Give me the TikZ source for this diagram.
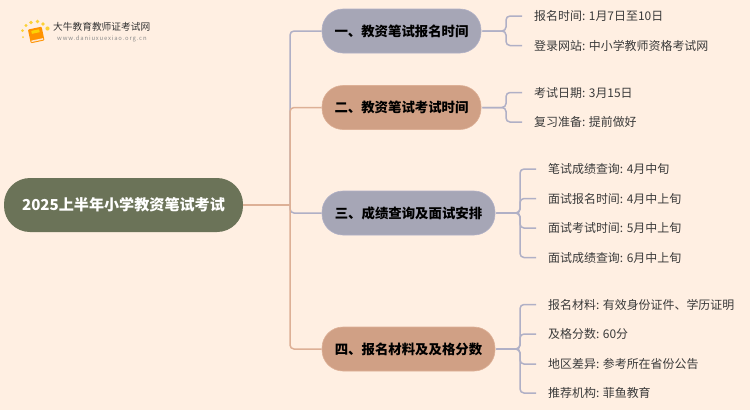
\documentclass[tikz,border=0pt]{standalone}
\usepackage{fontspec}
\setmainfont{Noto Sans CJK SC}
\definecolor{bgc}{HTML}{FFEFE2}
\definecolor{rootc}{HTML}{6B7358}
\definecolor{purp}{HTML}{A6A6B6}
\definecolor{tanc}{HTML}{D0A085}
\definecolor{lpurp}{HTML}{B0B0C6}
\definecolor{ltan}{HTML}{DDB096}
\definecolor{txt}{HTML}{3A3A3A}
\tikzset{
  x=1pt,y=-1pt,
  rootbox/.style={rounded corners=26pt,fill=rootc,text=white,minimum width=239pt,minimum height=54pt,inner sep=0pt,font=\fontsize{15.1}{16}\selectfont\bfseries},
  branchbox/.style={rounded corners=21pt,minimum height=44pt,inner sep=0pt,text=black,font=\fontsize{13.4}{15}\selectfont\bfseries},
  pbox/.style={branchbox,fill=purp,draw=lpurp,line width=.6pt},
  tbox/.style={branchbox,fill=tanc,draw=ltan,line width=.6pt},
  leaf/.style={anchor=west,inner xsep=12pt,inner ysep=0pt,text=txt,font=\fontsize{11.95}{13}\selectfont},
  conn/.style={line width=1.5pt,rounded corners=4pt},
  pconn/.style={conn,draw=lpurp},
  tconn/.style={conn,draw=ltan},
}
\begin{document}
\begin{tikzpicture}
\useasboundingbox (0,0) rectangle (750,410);
\fill[bgc] (0,0) rectangle (750,410);
% logo
\fill[orange!85!yellow,rounded corners=1pt,rotate around={12:(36,34)}] (29,28) rectangle (43,42);
\fill[white!80!orange,rotate around={12:(36,34)}] (30,39.5) rectangle (42,41);
\fill[yellow!70!orange,rotate around={12:(36,34)}] (32,30) rectangle (40,33);
\foreach \px/\py/\pr in {23/37/1,22.5/30.5/1.5,26/25.5/1.7,31/22.5/1.9,37.5/21.5/1.9,43/24/1.9,47.5/28.5/2.1}
  \fill[yellow!60!orange!80] (\px,\py) circle (\pr);
\node[anchor=west,inner sep=0pt,text=black!80] (logotext) at (53,27) {\fontsize{9.7}{11}\selectfont 大牛教育教师证考试网};
\node[anchor=west,inner sep=0pt,text=black!45] (logourl) at (57,39.3) {\fontsize{5.9}{7}\selectfont\addfontfeatures{LetterSpace=14}www.daniuxuexiao.org.cn};
% nodes
\node[rootbox] (root) at (123.5,205) {2025上半年小学教资笔试考试};
\node[pbox,minimum width=159pt] (b1) at (401.5,31) {一、教资笔试报名时间};
\node[tbox,minimum width=159pt] (b2) at (401.5,107.5) {二、教资笔试考试时间};
\node[pbox,minimum width=173pt] (b3) at (408.5,213) {三、成绩查询及面试安排};
\node[tbox,minimum width=173pt] (b4) at (408.5,349) {四、报名材料及及格分数};
\coordinate (trunk) at (290,205);
\node[leaf] (l11) at (522,16) {报名时间: 1月7日至10日};
\node[leaf] (l12) at (522,45.5) {登录网站: 中小学教师资格考试网};
\node[leaf] (l21) at (522,92.5) {考试日期: 3月15日};
\node[leaf] (l22) at (522,122) {复习准备: 提前做好};
\node[leaf] (l31) at (536,169) {笔试成绩查询: 4月中旬};
\node[leaf] (l32) at (536,198.5) {面试报名时间: 4月中上旬};
\node[leaf] (l33) at (536,228) {面试考试时间: 5月中上旬};
\node[leaf] (l34) at (536,257.5) {面试成绩查询: 6月中上旬};
\node[leaf] (l41) at (536,304.5) {报名材料: 有效身份证件、学历证明};
\node[leaf] (l42) at (536,334) {及格分数: 60分};
\node[leaf] (l43) at (536,364) {地区差异: 参考所在省份公告};
\node[leaf] (l44) at (536,393) {推荐机构: 菲鱼教育};
% connectors
\draw[pconn] (trunk) |- (b1.west);
\draw[pconn] (trunk) |- (b3.west);
\draw[tconn] (trunk) |- (b2.west);
\draw[tconn] (trunk) |- (b4.west);
\draw[tconn] (root.east) -- (trunk);
\foreach \b/\bx/\ls in {b1/506/{l11,l12},b2/506/{l21,l22},b3/520/{l31,l32,l33,l34},b4/520/{l41,l42,l43,l44}}
  \foreach \l in \ls
    \draw[pconn] (\b.east) ++(1,0) -| (\bx,0 |- \l.west) -- (\l.west);
\end{tikzpicture}
\end{document}
